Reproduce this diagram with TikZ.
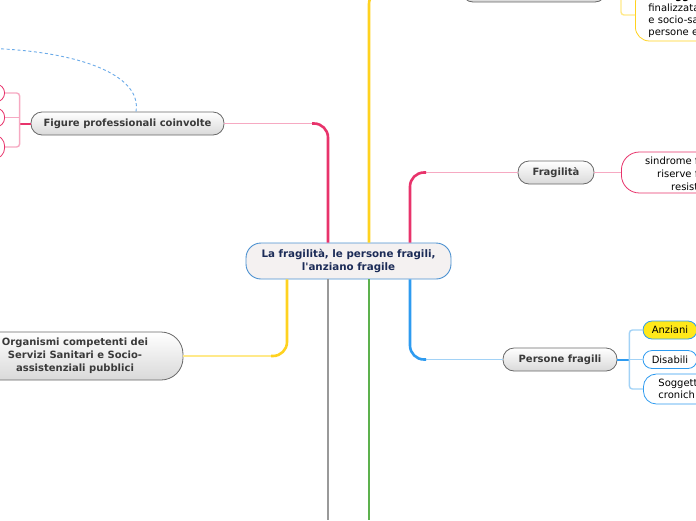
\documentclass[tikz,border=0pt]{standalone}
\usepackage{fontspec}
\setmainfont{DejaVu Sans}
\usetikzlibrary{calc}
\definecolor{pinkT}{HTML}{E8336B}
\definecolor{pinkL}{HTML}{F6A9C2}
\definecolor{yelT}{HTML}{FFD21F}
\definecolor{yelL}{HTML}{FFE98A}
\definecolor{bluT}{HTML}{2E9BF0}
\definecolor{bluL}{HTML}{A2D2F6}
\definecolor{greyT}{HTML}{999999}
\definecolor{greenT}{HTML}{5DB14E}
\definecolor{topicbd}{HTML}{686868}
\definecolor{topicbot}{HTML}{D9D9D9}
\definecolor{topictx}{HTML}{3A3A3A}
\definecolor{centbd}{HTML}{4A90D0}
\definecolor{centfill}{HTML}{F4F1F1}
\definecolor{centtx}{HTML}{1B2B57}
\definecolor{dashc}{HTML}{6AAAE8}
\definecolor{anzfill}{HTML}{FFE81A}
\begin{document}
\begin{tikzpicture}[x=1pt,y=-1pt,
  font=\fontsize{10}{12.5}\selectfont,
  central/.style={draw=centbd, line width=0.9pt, fill=centfill, rounded corners=15pt,
    text=centtx, font=\fontsize{10.3}{12.5}\selectfont\bfseries, align=center, inner sep=0pt},
  topic/.style={draw=topicbd, line width=0.8pt, top color=white, bottom color=topicbot,
    rounded corners=11pt, text=topictx, font=\fontsize{10}{13}\selectfont\bfseries,
    align=center, inner sep=0pt},
  pinkbox/.style={draw=pinkT, line width=0.8pt, fill=white, rounded corners=9pt, inner sep=0pt},
  yelbox/.style={draw=yelT, line width=0.8pt, fill=white, rounded corners=14pt, inner sep=0pt},
  blubox/.style={draw=bluT, line width=0.8pt, fill=white, rounded corners=9pt, inner sep=0pt},
  thickbr/.style={line width=2.6pt},
  thinbr/.style={line width=1.4pt},
  txt/.style={inner sep=0pt, anchor=base west, text=black}
]
\useasboundingbox (0,0) rectangle (696,520);

% nodes
\node[central, minimum width=205pt, minimum height=36pt] (c) at (348.5,261)
  {La fragilità, le persone fragili,\\l\textquotesingle anziano fragile};
\node[topic, minimum width=193pt, minimum height=23pt] (fig) at (127.5,123.5) {Figure professionali coinvolte};
\node[topic, minimum width=76pt, minimum height=23pt] (fr) at (556,172.5) {Fragilità};
\node[topic, minimum width=114pt, minimum height=23pt] (pf) at (560,359.5) {Persone fragili};
\node[topic, rounded corners=22pt, minimum width=216pt, minimum height=48pt] (org) at (75,356)
  {Organismi competenti dei\\Servizi Sanitari e Socio-\\assistenziali pubblici};
\node[topic, minimum width=144pt, minimum height=24pt] (top) at (534,-10) {};

% children
\node[yelbox, anchor=west, minimum height=52pt, minimum width=120pt, text width=100pt,
  align=left, inner xsep=13pt, font=\fontsize{10}{12}\selectfont] (lg) at (635,15)
  {\textbf{La legge}\\finalizzata\\e socio-sa\\persone e};
\node[pinkbox, anchor=west, minimum width=120pt, minimum height=41pt, rounded corners=18pt] (fc) at (621,172.5) {};
\node[txt] (fc1) at (645,164) {sindrome f};
\node[txt] (fc2) at (657,177) {riserve f};
\node[txt] (fc3) at (671,190) {resist};
\node[blubox, fill=anzfill, minimum width=54pt, minimum height=18pt] (an) at (670,330) {Anziani};
\node[blubox, minimum width=54pt, minimum height=18pt] (ds) at (670,359.5) {Disabili};
\node[blubox, anchor=west, minimum width=90pt, minimum height=30pt, rounded corners=13pt,
  text width=70pt, align=left, inner xsep=15pt] (sg) at (643,389) {Soggett\\cronich};
\node[pinkbox, anchor=east, minimum width=40pt, minimum height=18pt] (k1) at (5,93) {};
\node[pinkbox, anchor=east, minimum width=40pt, minimum height=19pt] (k2) at (5,117.5) {};
\node[pinkbox, anchor=east, minimum width=40pt, minimum height=24pt, rounded corners=11pt] (k3) at (5,147) {};

% column coordinates
\coordinate (colA) at (287,0);
\coordinate (colB) at (328,0);
\coordinate (colC) at (369,0);
\coordinate (colD) at (410,0);
\coordinate (bot) at (0,520);
\coordinate (dl) at (-6,48.5);

% main branches
\draw[thinbr, pinkL] (fig.east) -- ($(colB |- fig.east)+(-16,0)$);
\draw[thickbr, pinkT, rounded corners=14pt] (c.north -| colB) |- ($(colB |- fig.east)+(-16,0)$);
\draw[thickbr, yelT, rounded corners=14pt] (c.north -| colC) |- (top.west);
\draw[thinbr, pinkL] (fr.west) -- ($(colD |- fr.west)+(16,0)$);
\draw[thickbr, pinkT, rounded corners=14pt] (c.north -| colD) |- ($(colD |- fr.west)+(16,0)$);
\draw[thinbr, yelL] (org.east) -- ($(colA |- org.east)+(-16,0)$);
\draw[thickbr, yelT, rounded corners=14pt] (c.south -| colA) |- ($(colA |- org.east)+(-16,0)$);
\draw[thickbr, greyT] (c.south -| colB) -- (colB |- bot);
\draw[thickbr, greenT] (c.south -| colC) -- (colC |- bot);
\draw[thinbr, bluL] (pf.west) -- ($(colD |- pf.west)+(16,0)$);
\draw[thickbr, bluT, rounded corners=14pt] (c.south -| colD) |- ($(colD |- pf.west)+(16,0)$);

% sub branches
\draw[thinbr, pinkL] (fr.east) -- (fc.west);
\draw[thinbr, yelL, rounded corners=3pt] (top.east) -| ($(lg.west)+(-14,0)$) -- (lg.west);
\coordinate (pb) at ($(pf.east)+(12,0)$);
\draw[line width=2pt, bluT] (pf.east) -- (pb);
\draw[thinbr, bluL, rounded corners=3pt] (an.west) -| (pb) |- (sg.west);
\draw[thinbr, bluL] (pb) -- (ds.west);
\coordinate (fb) at ($(fig.west)+(-11,0)$);
\draw[line width=2pt, pinkT] (fig.west) -- (fb);
\draw[thinbr, pinkL, rounded corners=3pt] (k1.east) -| (fb) |- (k3.east);
\draw[thinbr, pinkL] (k2.east) -- (k2.east -| fb);

% dashed relation
\draw[dashc, line width=0.9pt, dash pattern=on 3pt off 2.5pt]
  ($(fig.north)+(8.5,0)$) .. controls (142,75) and (80,52) .. (dl);
\end{tikzpicture}
\end{document}
